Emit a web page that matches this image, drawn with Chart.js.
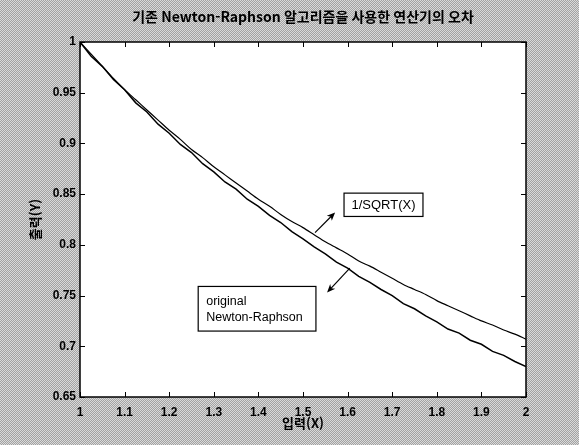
<!DOCTYPE html>
<html lang="ko">
<head>
<meta charset="UTF-8">
<title>기존 Newton-Raphson 알고리즘을 사용한 연산기의 오차</title>
<script src="https://cdn.jsdelivr.net/npm/chart.js"></script>
<style>
    body {
        margin: 0;
        width: 579px;
        height: 445px;
        overflow: hidden;
        background: repeating-conic-gradient(#a2a2a2 0 25%, #dadada 0 50%) 0 0 / 2px 2px;
    }
    canvas { display: block; }
</style>
</head>
<body>
<canvas id="errChart" width="579" height="445"></canvas>
<script>
// input X
const xInput = [1.000, 1.025, 1.050, 1.075, 1.100, 1.125, 1.150, 1.175, 1.200, 1.225,
                1.250, 1.275, 1.300, 1.325, 1.350, 1.375, 1.400, 1.425, 1.450, 1.475,
                1.500, 1.525, 1.550, 1.575, 1.600, 1.625, 1.650, 1.675, 1.700, 1.725,
                1.750, 1.775, 1.800, 1.825, 1.850, 1.875, 1.900, 1.925, 1.950, 1.975, 2.000];

// 1/SQRT(X) curve
const sqrtRef = [1.000, 0.988, 0.976, 0.964, 0.953, 0.943, 0.933, 0.923, 0.913, 0.904,
                 0.894, 0.886, 0.877, 0.869, 0.861, 0.853, 0.845, 0.838, 0.830, 0.823,
                 0.817, 0.810, 0.803, 0.797, 0.791, 0.784, 0.779, 0.773, 0.767, 0.761,
                 0.756, 0.751, 0.745, 0.740, 0.735, 0.730, 0.725, 0.721, 0.716, 0.712, 0.707];

// original Newton-Raphson output (jagged)
const nrOutput = [1.000, 0.986, 0.976, 0.963, 0.953, 0.940, 0.931, 0.919, 0.910, 0.899,
                  0.891, 0.880, 0.872, 0.862, 0.855, 0.845, 0.838, 0.829, 0.822, 0.813,
                  0.806, 0.798, 0.791, 0.783, 0.777, 0.769, 0.763, 0.756, 0.750, 0.742,
                  0.737, 0.730, 0.724, 0.717, 0.713, 0.706, 0.702, 0.695, 0.691, 0.685, 0.680];

const xTickLabels = ['1', '1.1', '1.2', '1.3', '1.4', '1.5', '1.6', '1.7', '1.8', '1.9', '2'];
const yTickLabels = ['0.65', '0.7', '0.75', '0.8', '0.85', '0.9', '0.95', '1'];

// text boxes with arrows, in data units
const notes = [
    { lines: ['1/SQRT(X)'], box: [1.592, 0.851, 1.769, 0.828], arrow: [1.527, 0.812, 1.572, 0.832], center: true },
    { lines: ['original', 'Newton-Raphson'], box: [1.265, 0.759, 1.529, 0.715], arrow: [1.605, 0.777, 1.554, 0.753], center: false }
];

const tickFont = { family: 'Arial, "Liberation Sans", sans-serif', size: 12, weight: 'bold' };
const krFont = '"Noto Sans CJK KR", sans-serif';

const frame = {
    id: 'frame',
    beforeDraw(chart) {
        const { ctx, chartArea: a } = chart;
        ctx.save();
        ctx.fillStyle = '#fff';
        ctx.fillRect(a.left, a.top, a.right - a.left, a.bottom - a.top);
        ctx.restore();
    },
    afterDatasetsDraw(chart) {
        const { ctx, chartArea: a, scales } = chart;
        ctx.save();
        ctx.strokeStyle = '#000';
        ctx.lineWidth = 1;
        ctx.beginPath();
        scales.x.ticks.forEach(t => {
            const px = Math.round(scales.x.getPixelForValue(t.value)) + 0.5;
            ctx.moveTo(px, a.bottom); ctx.lineTo(px, a.bottom - 5);
            ctx.moveTo(px, a.top); ctx.lineTo(px, a.top + 5);
        });
        scales.y.ticks.forEach(t => {
            const py = Math.round(scales.y.getPixelForValue(t.value)) + 0.5;
            ctx.moveTo(a.left, py); ctx.lineTo(a.left + 5, py);
            ctx.moveTo(a.right, py); ctx.lineTo(a.right - 5, py);
        });
        ctx.stroke();
        ctx.lineWidth = 1.5;
        ctx.strokeRect(a.left, a.top, a.right - a.left, a.bottom - a.top);

        // annotations
        const X = v => scales.x.getPixelForValue(v);
        const Y = v => scales.y.getPixelForValue(v);
        notes.forEach(n => {
            const x0 = X(n.box[0]), y0 = Y(n.box[1]), x1 = X(n.box[2]), y1 = Y(n.box[3]);
            ctx.fillStyle = '#fff';
            ctx.fillRect(x0, y0, x1 - x0, y1 - y0);
            ctx.lineWidth = 1.2;
            ctx.strokeRect(x0, y0, x1 - x0, y1 - y0);
            ctx.fillStyle = '#000';
            ctx.font = (n.center ? '13px' : '12.5px') + ' Arial, "Liberation Sans", sans-serif';
            ctx.textBaseline = 'middle';
            n.lines.forEach((s, i) => {
                if (n.center) {
                    ctx.textAlign = 'center';
                    ctx.fillText(s, (x0 + x1) / 2, (y0 + y1) / 2 + 1);
                } else {
                    ctx.textAlign = 'left';
                    ctx.fillText(s, x0 + 8, y0 + 15 + i * 16);
                }
            });
            // arrow
            const ax = X(n.arrow[0]), ay = Y(n.arrow[1]), bx = X(n.arrow[2]), by = Y(n.arrow[3]);
            const ang = Math.atan2(by - ay, bx - ax);
            ctx.lineWidth = 1.2;
            ctx.beginPath();
            ctx.moveTo(ax, ay);
            ctx.lineTo(bx - 5 * Math.cos(ang), by - 5 * Math.sin(ang));
            ctx.stroke();
            ctx.beginPath();
            ctx.moveTo(bx, by);
            ctx.lineTo(bx - 9 * Math.cos(ang - 0.4), by - 9 * Math.sin(ang - 0.4));
            ctx.lineTo(bx - 6 * Math.cos(ang), by - 6 * Math.sin(ang));
            ctx.lineTo(bx - 9 * Math.cos(ang + 0.4), by - 9 * Math.sin(ang + 0.4));
            ctx.closePath();
            ctx.fill();
        });
        ctx.restore();
    }
};

new Chart(document.getElementById('errChart'), {
    type: 'line',
    data: {
        datasets: [
            {
                label: '1/SQRT(X)',
                data: xInput.map((x, i) => ({ x: x, y: sqrtRef[i] })),
                borderColor: '#000',
                borderWidth: 1.2,
                pointRadius: 0,
                tension: 0.3
            },
            {
                label: 'original Newton-Raphson',
                data: xInput.map((x, i) => ({ x: x, y: nrOutput[i] })),
                borderColor: '#000',
                borderWidth: 1.5,
                pointRadius: 0
            }
        ]
    },
    options: {
        responsive: false,
        animation: false,
        devicePixelRatio: 1,
        layout: { padding: { left: 27, right: 0, top: 0, bottom: 0 } },
        scales: {
            x: {
                type: 'linear',
                min: 1,
                max: 2,
                ticks: {
                    stepSize: 0.1,
                    color: '#000',
                    font: tickFont,
                    padding: 8,
                    maxRotation: 0,
                    callback: (v, i) => xTickLabels[i]
                },
                grid: { display: false, drawTicks: false },
                border: { display: false },
                title: {
                    display: true,
                    text: '입력(X)',
                    color: '#000',
                    font: { family: krFont, size: 13, weight: 'bold' },
                    padding: { top: 0, bottom: 14 }
                },
                afterFit: s => { s.height = 48; }
            },
            y: {
                min: 0.65,
                max: 1,
                ticks: {
                    stepSize: 0.05,
                    color: '#000',
                    font: tickFont,
                    padding: 4,
                    callback: (v, i) => yTickLabels[i]
                },
                grid: { display: false, drawTicks: false },
                border: { display: false },
                title: {
                    display: true,
                    text: '출력(Y)',
                    color: '#000',
                    font: { family: krFont, size: 13, weight: 'bold' },
                    padding: { top: 0, bottom: 0 }
                },
                afterFit: s => { s.width = 53; }
            },
            yRight: {
                position: 'right',
                ticks: { display: false },
                grid: { display: false },
                border: { display: false },
                afterFit: s => { s.width = 53; }
            }
        },
        plugins: {
            legend: { display: false },
            tooltip: { enabled: false },
            title: {
                display: true,
                text: '기존 Newton-Raphson 알고리즘을 사용한 연산기의 오차',
                color: '#000',
                font: { family: krFont, size: 14, weight: 'bold' },
                padding: { top: 8, bottom: 17.2 }
            }
        }
    },
    plugins: [frame]
});
</script>
</body>
</html>
